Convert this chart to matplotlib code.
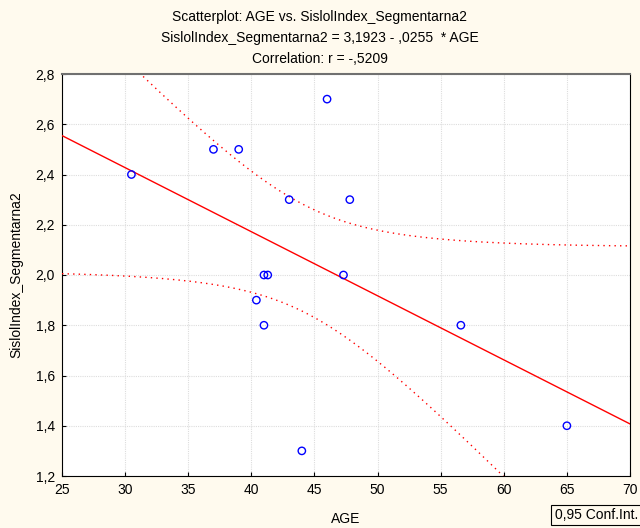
import matplotlib
matplotlib.use('Agg')
import matplotlib.pyplot as plt
import numpy as np

# data
age = [30.5, 37.0, 39.0, 46.0, 43.0, 47.8, 41.0, 41.3, 47.3, 40.4, 41.0, 56.6, 44.0, 65.0]
sisl = [2.4, 2.5, 2.5, 2.7, 2.3, 2.3, 2.0, 2.0, 2.0, 1.9, 1.8, 1.8, 1.3, 1.4]
intercept = 3.1923
slope = -0.0255
t_crit = 2.179          # t(0.975, df=12)
x_ticks = [25, 30, 35, 40, 45, 50, 55, 60, 65, 70]
y_ticks = [1.2, 1.4, 1.6, 1.8, 2.0, 2.2, 2.4, 2.6, 2.8]

plt.rcParams['font.family'] = ['Liberation Sans', 'DejaVu Sans']

fig = plt.figure(figsize=(6.4, 5.28), dpi=100, facecolor='#FFFAEE')
ax = fig.add_axes([62 / 640, 1 - 476 / 528, 568 / 640, 402 / 528])
ax.set_facecolor('white')

x = np.asarray(age)
y = np.asarray(sisl)
n = len(x)
xs = np.linspace(25, 70, 300)
fit = intercept + slope * xs
resid = y - (intercept + slope * x)
s = np.sqrt(np.sum(resid ** 2) / (n - 2))
sxx = np.sum((x - x.mean()) ** 2)
hw = t_crit * s * np.sqrt(1 / n + (xs - x.mean()) ** 2 / sxx)

ax.plot(xs, fit, color='#FF0000', lw=1.0, zorder=3)
ax.plot(xs, fit + hw, color='#FF0000', lw=1.0, ls=(0, (1, 3)), zorder=3)
ax.plot(xs, fit - hw, color='#FF0000', lw=1.0, ls=(0, (1, 3)), zorder=3)
ax.scatter(x, y, s=28, facecolors='none', edgecolors='#0000FF', linewidths=1.0, zorder=4)

ax.set_xlim(25, 70)
ax.set_ylim(1.2, 2.8)
ax.set_xticks(x_ticks)
ax.set_yticks(y_ticks)
ax.set_xticklabels([str(v) for v in x_ticks])
ax.set_yticklabels([('%.1f' % v).replace('.', ',') for v in y_ticks])
ax.tick_params(direction='in', length=3, labelsize=10, colors='black', pad=5)
ax.grid(True, color='#DDDDDD', ls=(0, (1, 1)), lw=0.8)
ax.set_axisbelow(True)
for side in ['left', 'bottom', 'right']:
    ax.spines[side].set_color('black')
ax.spines['top'].set_color('#707070')
ax.spines['top'].set_linewidth(1.5)

ax.set_xlabel('AGE', fontsize=10, labelpad=11)
ax.set_ylabel('SislolIndex_Segmentarna2', fontsize=10, labelpad=9)

fig.text(0.5, 1 - 17 / 528, 'Scatterplot: AGE vs. SislolIndex_Segmentarna2',
         ha='center', va='center', fontsize=10)
fig.text(0.5, 1 - 38 / 528, 'SislolIndex_Segmentarna2 = 3,1923 - ,0255  * AGE',
         ha='center', va='center', fontsize=10)
fig.text(0.5, 1 - 59 / 528, 'Correlation: r = -,5209',
         ha='center', va='center', fontsize=10)

fig.text(638 / 640, 1 - 515 / 528, '0,95 Conf.Int.', ha='right', va='center', fontsize=10,
         bbox=dict(boxstyle='square,pad=0.25', facecolor='#FFFAEE', edgecolor='black', lw=0.8))

fig.savefig('out.png', dpi=100, facecolor=fig.get_facecolor())
